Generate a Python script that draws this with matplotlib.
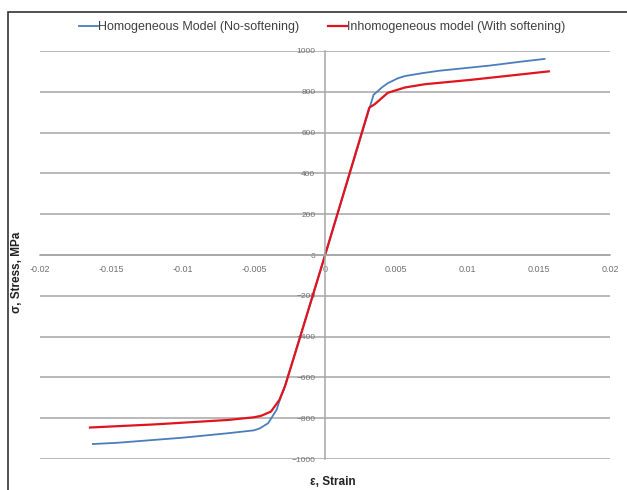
import matplotlib.pyplot as plt
from matplotlib.patches import Rectangle

# strain / stress
homo_strain = [-0.0163, -0.0146, -0.0100, -0.0068, -0.0050, -0.0046, -0.0040, -0.0034,
               -0.0031, -0.0029, 0.0, 0.0034, 0.0040, 0.0044, 0.0051, 0.0056, 0.0068,
               0.0080, 0.0115, 0.0138, 0.0154]
homo_stress = [-926, -920, -895, -873, -859, -850, -824, -758,
               -693, -660, 0, 785, 822, 842, 866, 877, 891,
               903, 928, 948, 961]

inhomo_strain = [-0.0165, -0.0120, -0.0080, -0.0068, -0.0050, -0.0045, -0.0038, -0.0032,
                 -0.0028, -0.0018, 0.0, 0.0031, 0.0035, 0.0044, 0.0056, 0.0070,
                 0.0103, 0.0157]
inhomo_stress = [-845, -830, -813, -808, -795, -788, -767, -709,
                 -640, -413, 0, 722, 740, 795, 821, 837,
                 859, 900]

x_ticks = [-0.02, -0.015, -0.01, -0.005, 0, 0.005, 0.01, 0.015, 0.02]
x_labels = ['-0.02', '-0.015', '-0.01', '-0.005', '0', '0.005', '0.01', '0.015', '0.02']
y_ticks = [-1000, -800, -600, -400, -200, 0, 200, 400, 600, 800, 1000]

plt.rcParams['font.family'] = ['Liberation Sans', 'DejaVu Sans']

fig = plt.figure(figsize=(6.27, 4.9), dpi=100)
ax = fig.add_axes([0.064, 0.063, 0.909, 0.833])

ax.plot(homo_strain, homo_stress, color='#4a7ebb', lw=1.3,
        label='Homogeneous Model (No-softening)')
ax.plot(inhomo_strain, inhomo_stress, color='#e0141e', lw=1.6,
        label='Inhomogeneous model (With softening)')

ax.set_xlim(-0.02, 0.02)
ax.set_ylim(-1000, 1000)
ax.set_xticks(x_ticks)
ax.set_xticklabels(x_labels)
ax.set_yticks(y_ticks)
ax.yaxis.grid(True, color='#a6a6a6', lw=1.1)
ax.set_axisbelow(True)

for s in ['top', 'right']:
    ax.spines[s].set_visible(False)
ax.spines['left'].set_position(('data', 0))
ax.spines['bottom'].set_position(('data', 0))
ax.spines['left'].set_color('#a6a6a6')
ax.spines['bottom'].set_color('#a6a6a6')
ax.spines['left'].set_linewidth(1.1)
ax.spines['bottom'].set_linewidth(1.1)
ax.tick_params(axis='both', length=0, labelcolor='#707070')
ax.tick_params(axis='y', pad=7, labelsize=6)
ax.tick_params(axis='x', pad=7, labelsize=6.5)

fig.legend(loc='center', bbox_to_anchor=(0.514, 0.945), ncol=2, frameon=False,
           fontsize=9, handlelength=1.5, handletextpad=0.05, columnspacing=2.3,
           labelcolor='#404040')

fig.text(0.531, 0.016, 'ε, Strain', ha='center', va='center',
         fontsize=8.5, fontweight='bold', color='#222222')
fig.text(0.027, 0.445, 'σ, Stress, MPa', ha='center', va='center', rotation=90,
         fontsize=8.5, fontweight='bold', color='#222222')

fig.patches.append(Rectangle((0.012, -0.1), 1.2, 0.1 + 0.975, transform=fig.transFigure,
                             fill=False, edgecolor='#333333', lw=1.2))

fig.savefig('out.png', dpi=100)
